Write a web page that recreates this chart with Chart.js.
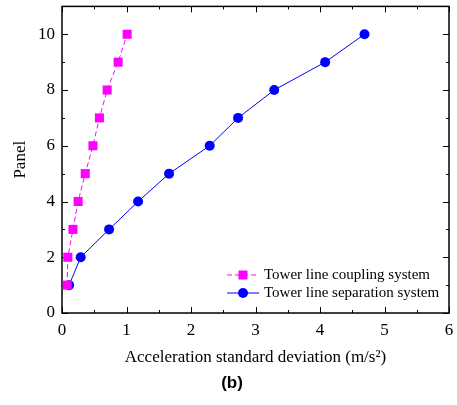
<!DOCTYPE html>
<html>
<head>
<meta charset="utf-8">
<script src="https://cdn.jsdelivr.net/npm/chart.js@4/dist/chart.umd.min.js"></script>
<style>
  html, body { margin: 0; padding: 0; background: #fff; }
  #wrap { width: 457px; height: 405px; }
</style>
</head>
<body>
<div id="wrap"><canvas id="c"></canvas></div>
<script>
const panels = [1, 2, 3, 4, 5, 6, 7, 8, 9, 10];
const coupling = [0.08, 0.09, 0.17, 0.25, 0.36, 0.48, 0.58, 0.70, 0.87, 1.01];
const separation = [0.11, 0.29, 0.73, 1.18, 1.66, 2.29, 2.73, 3.29, 4.08, 4.69];
const seriesNames = ["Tower line coupling system", "Tower line separation system"];
const xTicks = [0, 1, 2, 3, 4, 5, 6];
const yTicks = [0, 2, 4, 6, 8, 10];

const SERIF = "'Liberation Serif', 'Times New Roman', serif";
const MAGENTA = "#ff00ff";
const BLUE = "#0000ff";

const toPoints = (xs) => xs.map((v, i) => ({ x: v, y: panels[i] }));

// box, inward ticks on all four sides, inner legend and panel tag
const framePlugin = {
    id: "frame",
    beforeDatasetsDraw(chart) {
        const { ctx, chartArea: a, scales: { x, y } } = chart;
        ctx.save();
        ctx.strokeStyle = "#000";
        ctx.lineWidth = 1;
        for (let v = 0; v <= 6; v += 0.5) {
            const px = Math.round(x.getPixelForValue(v)) + 0.5;
            const len = Number.isInteger(v) ? 6 : 3;
            ctx.beginPath();
            ctx.moveTo(px, a.bottom); ctx.lineTo(px, a.bottom - len);
            ctx.moveTo(px, a.top); ctx.lineTo(px, a.top + len);
            ctx.stroke();
        }
        for (let v = 0; v <= 11; v += 1) {
            const py = Math.round(y.getPixelForValue(v)) + 0.5;
            const len = v % 2 === 0 ? 6 : 3;
            ctx.beginPath();
            ctx.moveTo(a.left, py); ctx.lineTo(a.left + len, py);
            ctx.moveTo(a.right, py); ctx.lineTo(a.right - len, py);
            ctx.stroke();
        }
        ctx.lineWidth = 1.5;
        ctx.strokeRect(a.left, a.top, a.right - a.left, a.bottom - a.top);
        ctx.restore();
    },
    afterDraw(chart) {
        const { ctx } = chart;
        ctx.save();
        const rows = [
            { y: 275, color: MAGENTA, dash: [5, 3], shape: "rect" },
            { y: 293, color: BLUE, dash: [], shape: "circle" },
        ];
        rows.forEach((r, i) => {
            ctx.strokeStyle = r.color;
            ctx.lineWidth = 1;
            ctx.setLineDash(r.dash);
            ctx.beginPath();
            ctx.moveTo(227, r.y); ctx.lineTo(259, r.y);
            ctx.stroke();
            ctx.setLineDash([]);
            ctx.fillStyle = r.color;
            if (r.shape === "rect") {
                ctx.fillRect(243 - 4.5, r.y - 4.5, 9, 9);
            } else {
                ctx.beginPath();
                ctx.arc(243, r.y, 5, 0, Math.PI * 2);
                ctx.fill();
            }
            ctx.fillStyle = "#000";
            ctx.font = "15px " + SERIF;
            ctx.textBaseline = "middle";
            ctx.textAlign = "left";
            ctx.fillText(seriesNames[i], 264, r.y);
        });
        ctx.font = "bold 17px 'Liberation Sans', Arial, sans-serif";
        ctx.textAlign = "center";
        ctx.textBaseline = "middle";
        ctx.fillText("(b)", 232, 383);
        ctx.restore();
    },
};

const noEdgePad = (s) => {
    s.paddingTop = 0;
    s.paddingBottom = 0;
    s.paddingLeft = 0;
    s.paddingRight = 0;
};

new Chart(document.getElementById("c"), {
    type: "line",
    data: {
        datasets: [
            {
                label: seriesNames[0],
                data: toPoints(coupling),
                borderColor: MAGENTA,
                backgroundColor: MAGENTA,
                borderWidth: 1,
                borderDash: [5, 3],
                pointStyle: "rect",
                pointRadius: 6.4,
                pointBorderWidth: 0,
                tension: 0,
            },
            {
                label: seriesNames[1],
                data: toPoints(separation),
                borderColor: BLUE,
                backgroundColor: BLUE,
                borderWidth: 1,
                pointStyle: "circle",
                pointRadius: 5,
                pointBorderWidth: 0,
                tension: 0,
            },
        ],
    },
    options: {
        responsive: true,
        maintainAspectRatio: false,
        animation: false,
        clip: false,
        layout: { padding: { top: 5, right: 8, left: 0, bottom: 0 } },
        plugins: {
            legend: { display: false },
            tooltip: { enabled: false },
        },
        scales: {
            x: {
                type: "linear",
                min: 0,
                max: 6,
                afterFit: (s) => { s.height = 92; noEdgePad(s); },
                afterBuildTicks: (s) => { s.ticks = xTicks.map((v) => ({ value: v })); },
                grid: { display: false, drawTicks: false },
                border: { display: false },
                ticks: {
                    padding: 7,
                    color: "#000",
                    font: { family: SERIF, size: 17 },
                },
                title: {
                    display: true,
                    text: "Acceleration standard deviation (m/s²)",
                    color: "#000",
                    font: { family: SERIF, size: 17 },
                    padding: { top: 0, bottom: 37 },
                },
            },
            y: {
                type: "linear",
                min: 0,
                max: 11,
                afterFit: (s) => { s.width = 62; noEdgePad(s); },
                afterBuildTicks: (s) => { s.ticks = yTicks.map((v) => ({ value: v })); },
                grid: { display: false, drawTicks: false },
                border: { display: false },
                ticks: {
                    padding: 7,
                    color: "#000",
                    font: { family: SERIF, size: 17 },
                },
                title: {
                    display: true,
                    text: "Panel",
                    color: "#000",
                    font: { family: SERIF, size: 17 },
                    padding: { top: 10, bottom: 0 },
                },
            },
        },
    },
    plugins: [framePlugin],
});
</script>
</body>
</html>
